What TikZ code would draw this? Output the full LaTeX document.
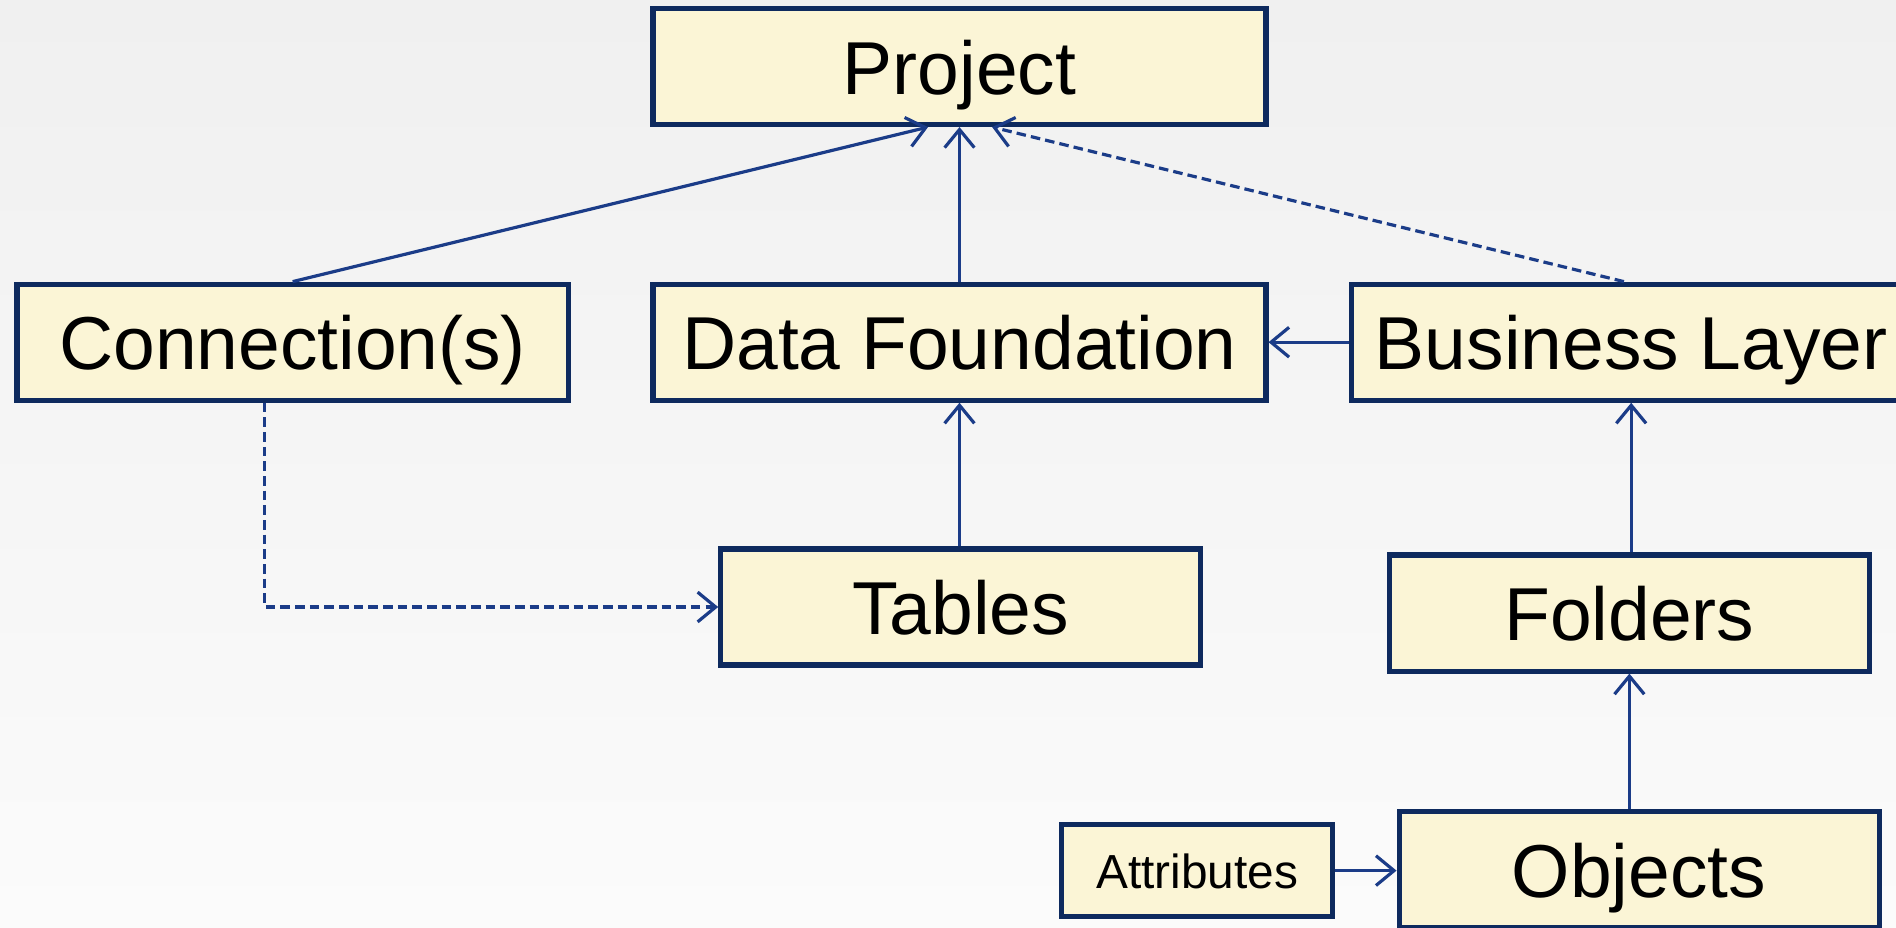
\documentclass[tikz,border=0pt]{standalone}
\usepackage{fontspec}
\setmainfont{Liberation Sans}
\usetikzlibrary{arrows.meta,calc}
\definecolor{fondoA}{HTML}{F0F0F0}
\definecolor{fondoB}{HTML}{FBFBFB}
\definecolor{borde}{HTML}{0E2A5E}
\definecolor{linea}{HTML}{1B3C88}
\definecolor{relleno}{HTML}{FBF5D6}
\tikzset{
	caja/.style={draw=borde, line width=2.4pt, fill=relleno, inner sep=0pt,
		minimum height=1.92cm, font=\fontsize{35.3}{40}\selectfont,
		text height=33.5pt, text depth=7.4pt},
	flecha/.style={draw=linea, line width=1.5pt,
		-{Straight Barb[length=8.5pt,width=14pt,line width=1.5pt]}},
	discont/.style={dash pattern=on 4.5pt off 2.4pt}
}
\begin{document}
\begin{tikzpicture}[x=0.02cm, y=-0.02cm]
		% Fondo
		\shade[top color=fondoA, bottom color=fondoB] (0,0) rectangle (1568,767);
		\useasboundingbox (0,0) rectangle (1568,767);
		
		% Cajas
		\node[caja, minimum width=10.14cm] (project) at (793.5,55) {Project};
		\node[caja, minimum width=9.12cm] (conn) at (242,283) {Connection(s)};
		\node[caja, minimum width=10.14cm] (df) at (793.5,283) {Data Foundation};
		\node[caja, minimum width=9.24cm] (bl) at (1349,283) {Business Layer};
		\node[caja, minimum width=7.94cm] (tables) at (794.5,502) {Tables};
		\node[caja, minimum width=7.94cm] (folders) at (1347.5,507) {Folders};
		\node[caja, minimum width=4.48cm, minimum height=1.52cm,
			font=\fontsize{22.5}{26}\selectfont,
			text height=21.4pt, text depth=4.7pt] (attrs) at (990,720) {Attributes};
		\node[caja, minimum width=7.94cm] (objects) at (1355.5,719) {Objects};
		
		% Relaciones
		\draw[flecha] (conn.north) -- ($(project.south)+(-26,0)$);
		\draw[flecha] (df.north) -- (project.south);
		\draw[flecha, discont] ($(bl.north)+(-6,0)$) -- ($(project.south)+(27,0)$);
		\draw[flecha] (bl.west) -- (df.east);
		\draw[flecha] (tables.north -| df.south) -- (df.south);
		\draw[flecha, discont] ($(conn.south)+(-23,0)$) |- (tables.west);
		\draw[flecha] (folders.north -| bl.south) -- (bl.south);
		\draw[flecha] (objects.north -| folders.south) -- (folders.south);
		\draw[flecha] (attrs.east) -- (attrs.east -| objects.west);
		
	\end{tikzpicture}
\end{document}
